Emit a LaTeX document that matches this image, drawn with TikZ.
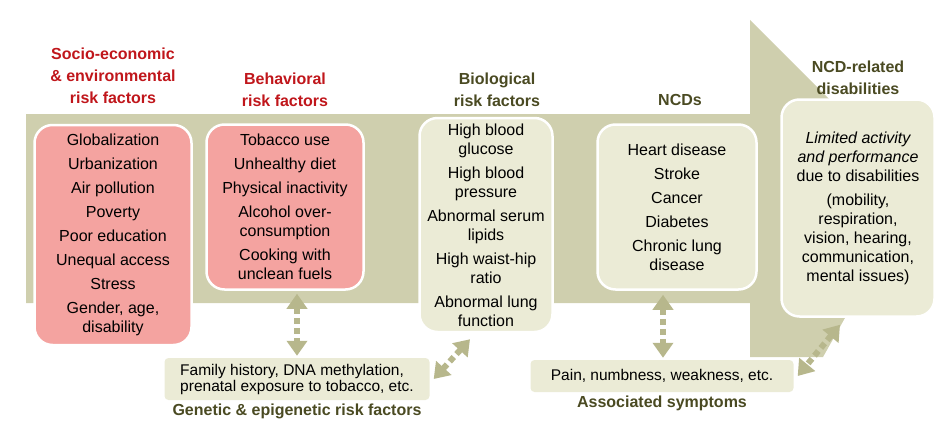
\documentclass[tikz,border=0pt]{standalone}
\usepackage{fontspec}
\setmainfont{Liberation Sans}
\usetikzlibrary{positioning, arrows.meta}
\definecolor{band}{HTML}{CFCFAE}
\definecolor{cream}{HTML}{EBEBD6}
\definecolor{pinkbox}{HTML}{F4A3A0}
\definecolor{redtitle}{HTML}{C0161B}
\definecolor{olivetitle}{HTML}{4A4A22}
\definecolor{olivearrow}{HTML}{B7B78C}

\begin{document}
\begin{tikzpicture}[x=1pt, y=-1pt,
riskbox/.style 2 args={rectangle, rounded corners=18pt,
  draw=white, line width=2.5pt,
  fill=#1,
  minimum width=#2, align=center, inner xsep=1pt,
  font=\fontsize{16}{24}\selectfont
},
smallbox/.style={rectangle, rounded corners=4pt,
  fill=cream, align=left,
  font=\fontsize{15.5}{20}\selectfont
},
title/.style={align=center, font=\bfseries\fontsize{16}{22}\selectfont, text=#1},
linkarrow/.style={olivearrow, line width=6pt, dash pattern=on 6pt off 4pt,
  {Triangle[width=20pt,length=15pt]}-{Triangle[width=20pt,length=15pt]}}
]
\useasboundingbox (0,0) rectangle (940,436);

% big arrow in the back
\fill[band] (26,114) -- (750,114) -- (750,20) -- (918,188)
  -- (823,357) -- (750,357) -- (750,303) -- (26,303) -- cycle;

% titles
\node[title=redtitle] (tsocio) at (113,76)
    {Socio-economic\\ \& environmental\\ risk factors};
\node[title=redtitle] (tbehav) at (285,90)
    {Behavioral\\ risk factors};
\node[title=olivetitle] (tbio) at (497,90)
    {Biological\\ risk factors};
\node[title=olivetitle] (tncd) at (680,100)
    {NCDs};
\node[title=olivetitle] (tdis) at (858,78)
    {NCD-related\\ disabilities};

% main boxes
\node[riskbox={pinkbox}{157pt}, minimum height=220pt] (socio) at (113,235)
    {Globalization\\ Urbanization\\ Air pollution\\ Poverty\\ Poor education\\ Unequal access\\ Stress\\ Gender, age,\\[-5pt] disability};
\node[riskbox={pinkbox}{157pt}, minimum height=165pt] (behav) at (285,207)
    {Tobacco use\\ Unhealthy diet\\ Physical inactivity\\ Alcohol over-\\[-5pt] consumption\\ Cooking with\\[-5pt] unclean fuels};
\node[riskbox={cream}{133pt}, minimum height=214pt] (bio) at (486,225)
    {High blood\\[-5pt] glucose\\ High blood\\[-5pt] pressure\\ Abnormal serum\\[-5pt] lipids\\ High waist-hip\\[-5pt] ratio\\ Abnormal lung\\[-5pt] function};
\node[riskbox={cream}{159pt}, minimum height=165pt] (ncd) at (677,207)
    {Heart disease\\ Stroke\\ Cancer\\ Diabetes\\ Chronic lung\\[-5pt] disease};
\node[riskbox={cream}{153pt}, minimum height=217pt] (dis) at (858,208)
    {\itshape Limited activity\\[-5pt] \itshape and performance\\[-5pt] due to disabilities\\ (mobility,\\[-5pt] respiration,\\[-5pt] vision, hearing,\\[-5pt] communication,\\[-5pt] mental issues)};

% lower boxes
\node[smallbox, minimum width=265pt, minimum height=42pt] (gen) at (297,379)
    {Family history, DNA methylation,\\[-4pt] prenatal exposure to tobacco, etc.};
\node[title=olivetitle, below=0pt of gen] (tgen)
    {Genetic \& epigenetic risk factors};
\node[smallbox, minimum width=263pt, minimum height=32pt] (sym) at (662,376)
    {Pain, numbness, weakness, etc.};
\node[title=olivetitle, below=0pt of sym] (tsym)
    {Associated symptoms};

% links
\draw[linkarrow] ([yshift=-3pt]behav.south -| gen.north) -- ([yshift=2pt]gen.north);
\draw[linkarrow] ([xshift=-16pt,yshift=-6pt]bio.south) -- ([xshift=4pt]gen.east);
\draw[linkarrow] ([xshift=-14pt,yshift=-4pt]ncd.south) -- ([xshift=1pt,yshift=2pt]sym.north);
\draw[linkarrow] ([xshift=-18pt,yshift=-7pt]dis.south) -- ([xshift=4pt]sym.east);
\end{tikzpicture}
\end{document}
